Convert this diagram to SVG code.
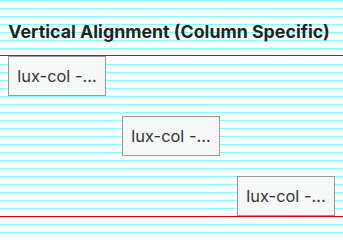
<svg xmlns="http://www.w3.org/2000/svg" width="343" height="240" viewBox="0 0 343 240">
  <style>
    .grid line { stroke: #80ffff; stroke-width: 1; }
    .edge { stroke: #e00000; stroke-width: 1.2; }
    .title { font-family: Inter, "Noto Sans", sans-serif; font-weight: 700; font-size: 17.8px; fill: #222; }
    .cell rect { fill: #f6f8f8; stroke: #999; stroke-width: 1; }
    .cell text { font-family: Inter, "Noto Sans", sans-serif; font-size: 16.4px; fill: #333; text-anchor: middle; }
  </style>
  <rect width="343" height="240" fill="#fff"/>
  <!-- baseline grid, one line every 8px -->
  <g class="grid">
    <line x1="0" y1="0.5" x2="343" y2="0.5"/>
    <line x1="0" y1="8.5" x2="343" y2="8.5"/>
    <line x1="0" y1="16.5" x2="343" y2="16.5"/>
    <line x1="0" y1="24.5" x2="343" y2="24.5"/>
    <line x1="0" y1="32.5" x2="343" y2="32.5"/>
    <line x1="0" y1="40.5" x2="343" y2="40.5"/>
    <line x1="0" y1="48.5" x2="343" y2="48.5"/>
    <line x1="0" y1="64.5" x2="343" y2="64.5"/>
    <line x1="0" y1="72.5" x2="343" y2="72.5"/>
    <line x1="0" y1="80.5" x2="343" y2="80.5"/>
    <line x1="0" y1="88.5" x2="343" y2="88.5"/>
    <line x1="0" y1="96.5" x2="343" y2="96.5"/>
    <line x1="0" y1="104.5" x2="343" y2="104.5"/>
    <line x1="0" y1="112.5" x2="343" y2="112.5"/>
    <line x1="0" y1="120.5" x2="343" y2="120.5"/>
    <line x1="0" y1="128.5" x2="343" y2="128.5"/>
    <line x1="0" y1="136.5" x2="343" y2="136.5"/>
    <line x1="0" y1="144.5" x2="343" y2="144.5"/>
    <line x1="0" y1="152.5" x2="343" y2="152.5"/>
    <line x1="0" y1="160.5" x2="343" y2="160.5"/>
    <line x1="0" y1="168.5" x2="343" y2="168.5"/>
    <line x1="0" y1="176.5" x2="343" y2="176.5"/>
    <line x1="0" y1="184.5" x2="343" y2="184.5"/>
    <line x1="0" y1="192.5" x2="343" y2="192.5"/>
    <line x1="0" y1="200.5" x2="343" y2="200.5"/>
    <line x1="0" y1="208.5" x2="343" y2="208.5"/>
    <line x1="0" y1="224.5" x2="343" y2="224.5"/>
    <line x1="0" y1="232.5" x2="343" y2="232.5"/>
  </g>
  <!-- container top and bottom edges -->
  <line class="edge" x1="0" y1="55.5" x2="343" y2="55.5"/>
  <line class="edge" x1="0" y1="216.5" x2="343" y2="216.5"/>
  <text class="title" x="169" y="38" text-anchor="middle">Vertical Alignment (Column Specific)</text>
  <g id="col-start" class="cell">
    <rect x="8.5" y="56.5" width="97" height="39"/>
    <text x="57" y="81.5">lux-col -...</text>
  </g>
  <g id="col-center" class="cell">
    <rect x="122.5" y="116.5" width="97" height="39"/>
    <text x="171" y="141.5">lux-col -...</text>
  </g>
  <g id="col-end" class="cell">
    <rect x="237.5" y="176.5" width="97" height="39"/>
    <text x="286" y="201.5">lux-col -...</text>
  </g>
</svg>
